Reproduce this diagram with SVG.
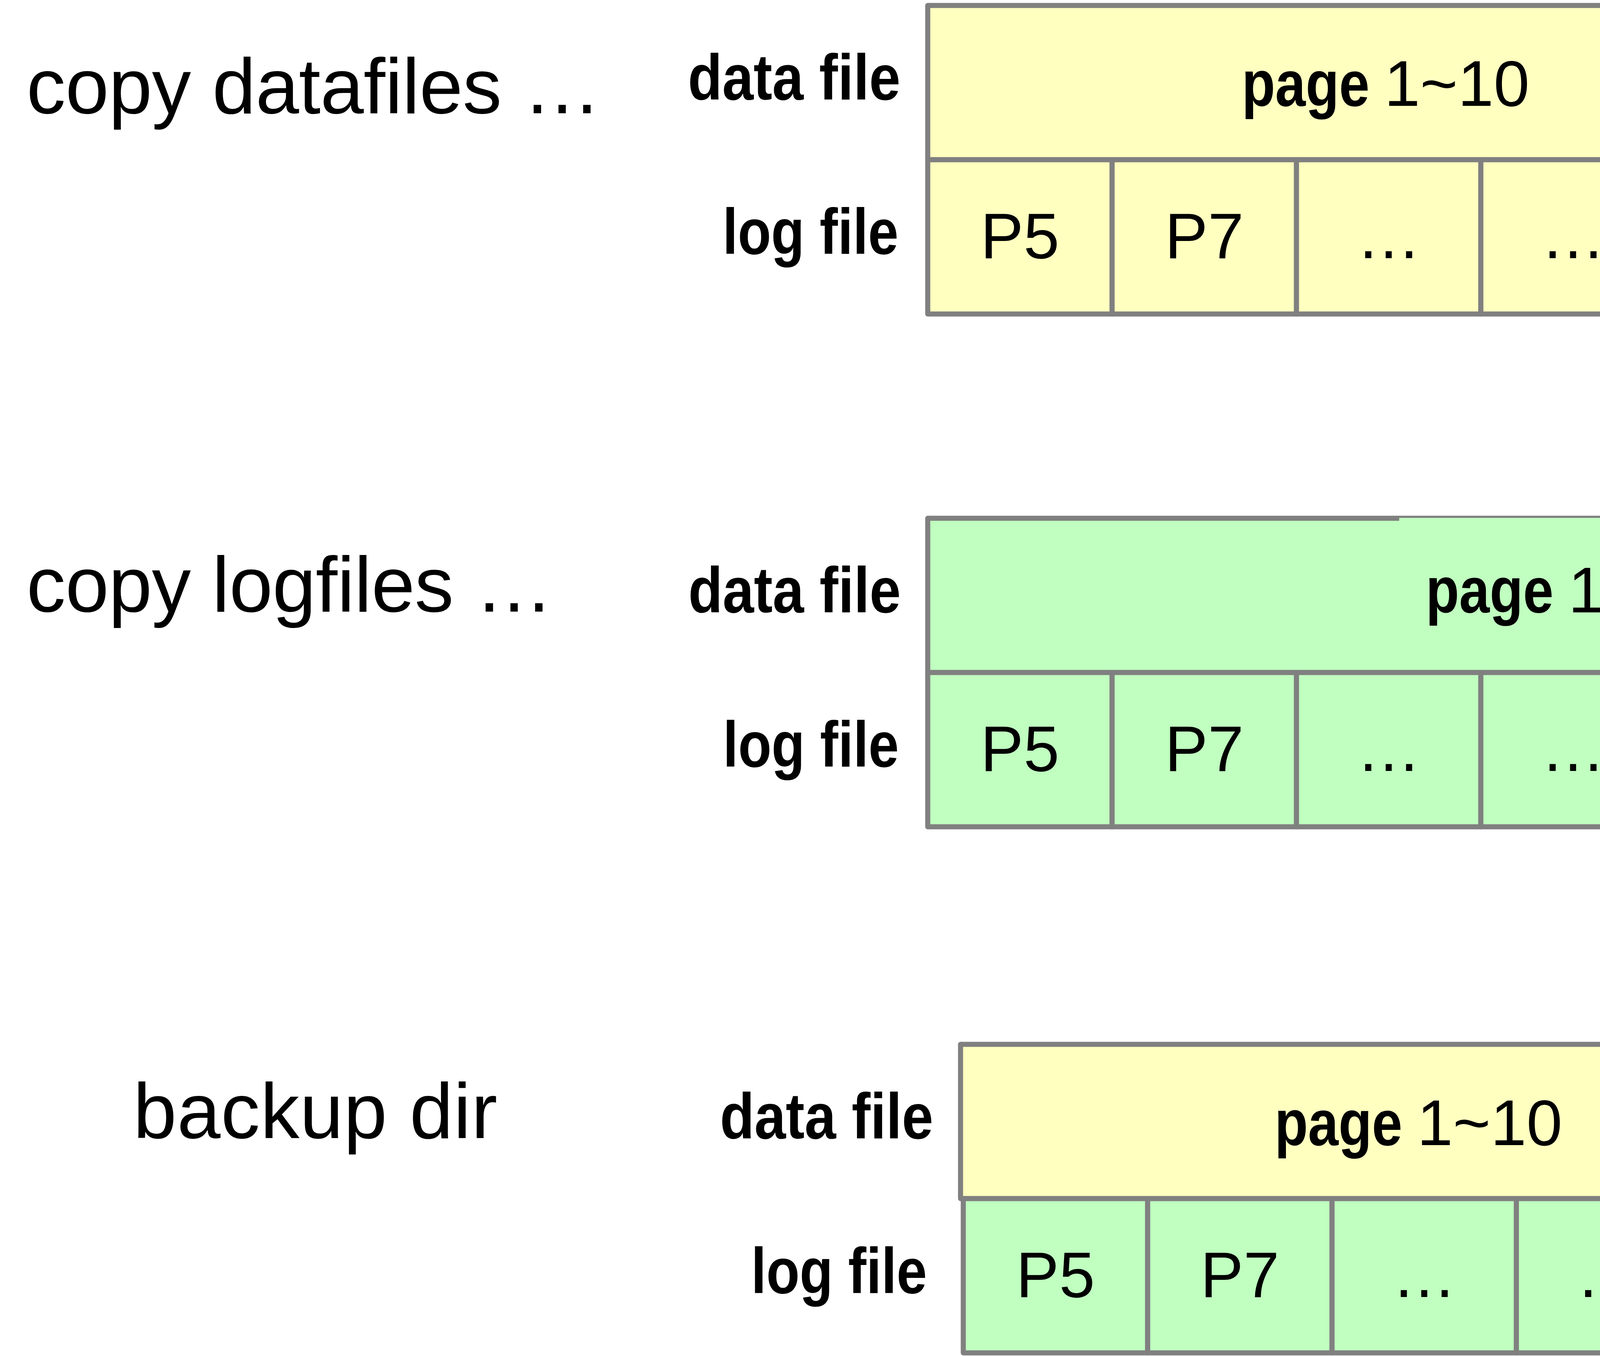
<svg xmlns="http://www.w3.org/2000/svg" width="5777" height="3472" viewBox="0 0 5777 3472">
<style>
.lbl{font-family:"Liberation Sans",Arial,sans-serif;font-size:200px;fill:#000}
.side{font-family:"Liberation Sans",Arial,sans-serif;font-weight:bold;font-size:165px;fill:#000}
.cell{font-family:"Liberation Sans",Arial,sans-serif;font-size:165px;fill:#000;text-anchor:middle}
.pg{font-family:"Liberation Sans",Arial,sans-serif;font-size:165px;fill:#000}
.pb{font-weight:bold}
.box{stroke:#808080;stroke-width:13;stroke-linejoin:round}
.y{fill:#FFFFC0}
.g{fill:#C0FFC0}
.new{fill:#00FF00;stroke:#000;stroke-width:14;stroke-dasharray:55 56;stroke-linecap:round;stroke-linejoin:round}
</style>
<rect width="5777" height="3472" fill="#fff"/>

<g id="labels">
<text class="lbl" x="68" y="290" textLength="1471">copy datafiles …</text>
<text class="lbl" x="68" y="1566" textLength="1348">copy logfiles …</text>
<text class="lbl" x="341" y="2914" textLength="932">backup dir</text>
<text class="side" x="1761" y="255" textLength="544" lengthAdjust="spacingAndGlyphs">data file</text>
<text class="side" x="1850" y="650" textLength="450" lengthAdjust="spacingAndGlyphs">log file</text>
<text class="side" x="1762" y="1568" textLength="544" lengthAdjust="spacingAndGlyphs">data file</text>
<text class="side" x="1851" y="1963" textLength="450" lengthAdjust="spacingAndGlyphs">log file</text>
<text class="side" x="1843" y="2915" textLength="546" lengthAdjust="spacingAndGlyphs">data file</text>
<text class="side" x="1923" y="3311" textLength="450" lengthAdjust="spacingAndGlyphs">log file</text>
</g>

<!-- Row 1: copy datafiles -->
<g id="r1-data">
<rect class="box y" x="2375" y="14" width="2360" height="395"/>
<text class="pg" y="271"><tspan class="pb" x="3179" textLength="327" lengthAdjust="spacingAndGlyphs">page</tspan><tspan x="3498"> 1~10</tspan></text>
</g>
<g id="r1-log-1"><rect class="box y" x="2375" y="409" width="472" height="395"/><text class="cell" x="2611" y="661">P5</text></g>
<g id="r1-log-2"><rect class="box y" x="2847" y="409" width="472" height="395"/><text class="cell" x="3083" y="661">P7</text></g>
<g id="r1-log-3"><rect class="box y" x="3319" y="409" width="472" height="395"/><text class="cell" x="3555" y="661">…</text></g>
<g id="r1-log-4"><rect class="box y" x="3791" y="409" width="472" height="395"/><text class="cell" x="4027" y="661">…</text></g>
<g id="r1-log-5"><rect class="box y" x="4263" y="409" width="472" height="395"/><text class="cell" x="4499" y="661">P10</text></g>

<!-- Row 2: copy logfiles -->
<g id="r2-data">
<rect class="box g" x="2375" y="1327" width="3304" height="395"/>
<rect x="3582" y="1326" width="889" height="9" fill="#C0FFC0"/>
<text class="pg" y="1568"><tspan class="pb" x="3650" textLength="327" lengthAdjust="spacingAndGlyphs">page</tspan><tspan x="3969"> 1~20</tspan></text>
</g>
<g id="r2-log-1"><rect class="box g" x="2375" y="1722" width="472" height="395"/><text class="cell" x="2611" y="1974">P5</text></g>
<g id="r2-log-2"><rect class="box g" x="2847" y="1722" width="472" height="395"/><text class="cell" x="3083" y="1974">P7</text></g>
<g id="r2-log-3"><rect class="box g" x="3319" y="1722" width="472" height="395"/><text class="cell" x="3555" y="1974">…</text></g>
<g id="r2-log-4"><rect class="box g" x="3791" y="1722" width="472" height="395"/><text class="cell" x="4027" y="1974">…</text></g>
<g id="r2-log-5"><rect class="box g" x="4263" y="1722" width="472" height="395"/><text class="cell" x="4499" y="1974">…</text></g>
<g id="r2-log-6"><rect class="box g" x="4735" y="1722" width="472" height="395"/><text class="cell" x="4971" y="1974">P15</text></g>
<g id="r2-log-7"><rect class="box g" x="5207" y="1722" width="472" height="395"/><text class="cell" x="5443" y="1974">P20</text></g>

<!-- Row 3: backup dir -->
<g id="r3-data">
<rect class="box y" x="2459" y="2674" width="2360" height="395"/>
<text class="pg" y="2932"><tspan class="pb" x="3263" textLength="327" lengthAdjust="spacingAndGlyphs">page</tspan><tspan x="3582"> 1~10</tspan></text>
</g>
<g id="r3-log-1"><rect class="box g" x="2466" y="3069" width="472" height="395"/><text class="cell" x="2702" y="3321">P5</text></g>
<g id="r3-log-2"><rect class="box g" x="2938" y="3069" width="472" height="395"/><text class="cell" x="3174" y="3321">P7</text></g>
<g id="r3-log-3"><rect class="box g" x="3410" y="3069" width="472" height="395"/><text class="cell" x="3646" y="3321">…</text></g>
<g id="r3-log-4"><rect class="box g" x="3882" y="3069" width="472" height="395"/><text class="cell" x="4118" y="3321">…</text></g>
<g id="r3-log-5"><rect class="box g" x="4354" y="3069" width="472" height="395"/><text class="cell" x="4590" y="3321">…</text></g>
<g id="r3-log-6"><rect class="new" x="4826.5" y="3069" width="472" height="395"/><text class="cell" x="5062.5" y="3321">P15</text></g>
<g id="r3-log-7"><rect class="new" x="5298.5" y="3069" width="472" height="395"/><text class="cell" x="5534.5" y="3321">…</text></g>

<g id="connectors"/>
</svg>
